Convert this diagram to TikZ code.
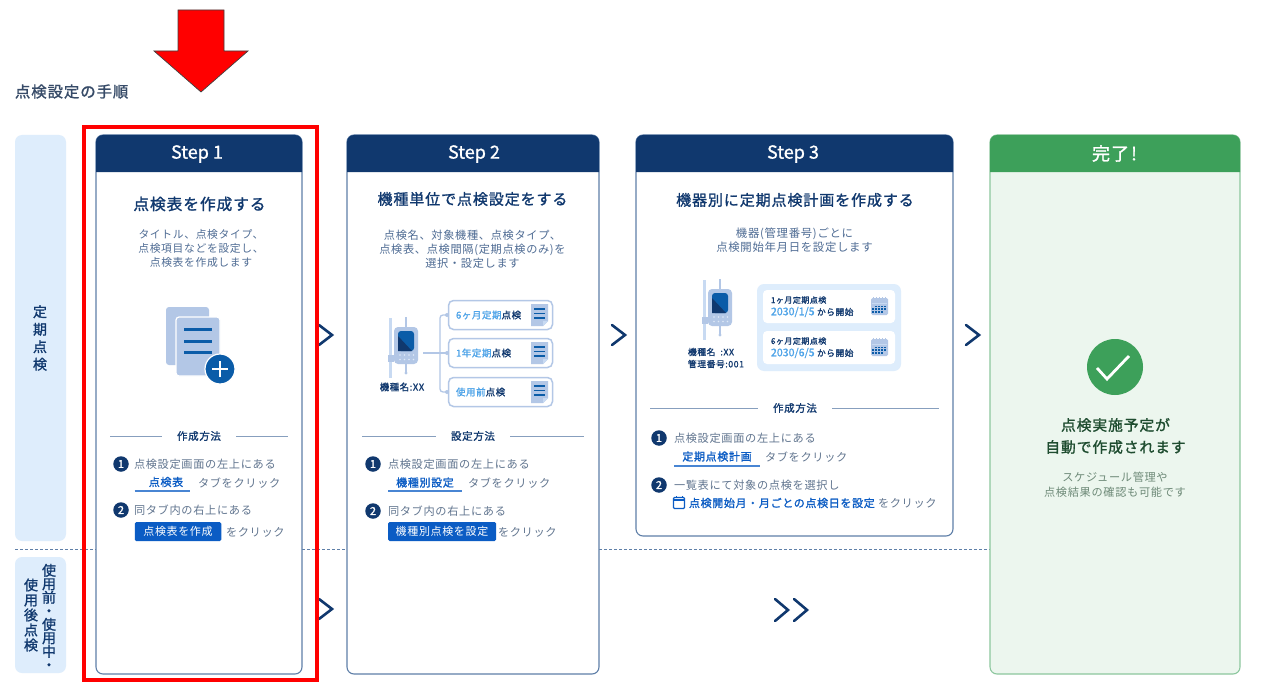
\documentclass[tikz,border=0pt]{standalone}
\usepackage{fontspec}
\setmainfont[LetterSpace=6,BoldFont={Noto Sans CJK JP},BoldFeatures={FakeBold=1.3}]{Noto Sans CJK JP}
\newfontfamily\stepfont[BoldFont={Noto Sans CJK JP},BoldFeatures={FakeBold=1.0}]{Noto Sans CJK JP}
\newcommand{\datenum}[1]{{\stepfont\fontsize{10.6}{12}\selectfont\bfseries\color{sky}#1}}
\definecolor{navy}{HTML}{10386E}
\definecolor{cardline}{HTML}{5F7FA8}
\definecolor{bodytx}{HTML}{4F6C94}
\definecolor{listtx}{HTML}{61758F}
\definecolor{lblue}{HTML}{DEEDFC}
\definecolor{icon}{HTML}{B3C7E6}
\definecolor{iconlt}{HTML}{C8DAF2}
\definecolor{blue}{HTML}{0B5CC4}
\definecolor{docblue}{HTML}{0B5CA8}
\definecolor{sky}{HTML}{4DA3E8}
\definecolor{green}{HTML}{3DA05A}
\definecolor{greenlt}{HTML}{ECF6EE}
\definecolor{greenln}{HTML}{8CC79E}
\definecolor{greentx}{HTML}{1F4D30}
\definecolor{greygr}{HTML}{6E8A78}
\tikzset{
  x=1pt,y=-1pt,
  tx/.style={inner sep=0pt,outer sep=0pt},
  heading/.style={tx,text=navy,font=\fontsize{15}{20}\selectfont\bfseries},
  headtx/.style={tx,text=white,font=\stepfont\fontsize{18}{22}\selectfont\bfseries},
  bodyt/.style={tx,text=bodytx,align=center,font=\fontsize{10.8}{14}\selectfont},
  sectt/.style={tx,text=navy,font=\fontsize{10.5}{14}\selectfont\bfseries},
  listt/.style={tx,anchor=west,text=listtx,font=\fontsize{11.2}{14}\selectfont},
  tabt/.style={tx,text=blue,font=\fontsize{11}{14}\selectfont\bfseries},
  btn/.style={tx,fill=blue,text=white,rounded corners=1.5pt,font=\fontsize{11}{14}\selectfont,minimum height=19pt},
  numc/.style={circle,fill=navy,text=white,inner sep=0pt,minimum size=15.5pt,font=\stepfont\fontsize{11}{11}\selectfont\bfseries},
  secrule/.style={draw=cardline!75,line width=0.9pt},
  tabline/.style={draw=blue!75,line width=1.1pt},
  chev/.style={draw=navy,line width=2.6pt,line join=miter,line cap=round},
  sidelab/.style={tx,text=navy,align=center,font=\fontsize{14}{17.5}\selectfont\bfseries},
  devlab/.style={tx,text=navy,font=\fontsize{8.8}{12}\selectfont\bfseries},
  rowbox/.style={draw=icon,fill=white,line width=1.5pt,rounded corners=5pt,minimum width=104pt,minimum height=29pt,inner sep=0pt},
  rowt/.style={tx,anchor=west,text=navy,font=\fontsize{9.5}{12}\selectfont\bfseries},
  deviceicon/.pic={
    \draw[iconlt,line width=3pt] (-4,-9) -- (-4,51);
    \draw[icon,line width=1.2pt] (12,-10) -- (12,0);
    \draw[icon,line width=1.2pt] (12,37) -- (12,46);
    \fill[icon] (12,46) circle (1.7);
    \fill[icon] (-6,28) rectangle (0,35);
    \fill[icon,rounded corners=4pt] (0,0) rectangle (24,37);
    \fill[docblue,rounded corners=3pt] (4,4) rectangle (20,24);
    \fill[navy] (4,9) -- (18,24) -- (4,24) -- cycle;
    \foreach \dx in {7,11.5,16,20.5} \foreach \dy in {28,32.5} \fill[iconlt!60] (\dx-1,\dy) circle (0.8);
  },
  docicon/.pic={
    \fill[icon] (0,0) -- (17,0) -- (17,17) -- (12,22) -- (0,22) -- cycle;
    \fill[iconlt] (17,17) -- (12,17) -- (12,22) -- cycle;
    \foreach \dy in {5,9.5,14} \draw[docblue,line width=1.2pt] (3,\dy) -- (14,\dy);
  },
  calicon/.pic={
    \fill[icon,rounded corners=1.5pt] (0,0) rectangle (17,17);
    \fill[iconlt] (0.7,5) rectangle (16.3,6.2);
    \foreach \dx in {3,6,9,12,15} \draw[icon,line width=.8pt] (\dx-0.5,-1) -- (\dx-0.5,1);
    \foreach \dx in {5,8,11,14} \fill[docblue] (\dx-1,7.5) rectangle (\dx+0.8,9.3);
    \foreach \dx in {2,5,8,11,14} \fill[docblue] (\dx-1,10.3) rectangle (\dx+0.8,12.1);
    \foreach \dx in {2,5,8,11} \fill[docblue] (\dx-1,13.1) rectangle (\dx+0.8,14.9);
  },
}
\begin{document}
\begin{tikzpicture}
\useasboundingbox (0,0) rectangle (1261,690);
\fill[white] (0,0) rectangle (1261,690);
% title and pointer
\node[tx,anchor=west,text=bodytx!70!black,font=\fontsize{15.4}{18}\selectfont\bfseries] (pagetitle) at (15,91.5) {点検設定の手順};
\draw[draw=black!75,line width=.7pt,fill=red] (178,10) -- (224,10) -- (224,51) -- (248,51) -- (201,92) -- (154,51) -- (178,51) -- cycle;
% side labels
\fill[lblue,rounded corners=7pt] (15,135) rectangle (66,541);
\fill[lblue,rounded corners=7pt] (15,557) rectangle (66,673);
\node[sidelab] (sidea) at (40,338) {定\\期\\点\\検};
\node[sidelab,font=\fontsize{14}{13.5}\selectfont\bfseries] (sideb) at (49,617) {使\\用\\前\\・\\使\\用\\中\\・};
\node[sidelab,font=\fontsize{14}{15}\selectfont\bfseries] (sidec) at (31,615) {使\\用\\後\\点\\検};
% dashed row separator
\draw[cardline,line width=.8pt,dash pattern=on 3pt off 2pt] (15,549) -- (96,549) (302,549) -- (347,549) (599,549) -- (990,549);
% cards
\draw[cardline,line width=1.1pt,fill=white,rounded corners=7pt] (96,135) rectangle (302,674);
\draw[cardline,line width=1.1pt,fill=white,rounded corners=7pt] (347,135) rectangle (599,674);
\draw[cardline,line width=1.1pt,fill=white,rounded corners=7pt] (636,135) rectangle (953,536);
\draw[greenln,line width=1.1pt,fill=greenlt,rounded corners=7pt] (990,135) rectangle (1240,674);
\fill[navy] (96,172) [rounded corners=7pt] -- (96,135) -- (302,135) [sharp corners] -- (302,172) -- cycle;
\fill[navy] (347,172) [rounded corners=7pt] -- (347,135) -- (599,135) [sharp corners] -- (599,172) -- cycle;
\fill[navy] (636,172) [rounded corners=7pt] -- (636,135) -- (953,135) [sharp corners] -- (953,172) -- cycle;
\fill[green] (990,172) [rounded corners=7pt] -- (990,135) -- (1240,135) [sharp corners] -- (1240,172) -- cycle;
\node[headtx] (h1) at (197,154) {Step 1};
\node[headtx] (h2) at (474,154) {Step 2};
\node[headtx] (h3) at (793,154) {Step 3};
\node[tx,text=white,font=\fontsize{18}{22}\selectfont\bfseries] (h4) at (1114.5,153.5) {完了\hspace{2pt}!\hspace{7pt}};
% chevrons
\draw[chev] (319,325) -- (332,335) -- (319,345);
\draw[chev] (612,325) -- (625,335) -- (612,345);
\draw[chev] (966,325) -- (979,335) -- (966,345);
\draw[chev] (319,599) -- (332,609) -- (319,619);
\draw[chev] (775,599) -- (788,610) -- (775,621);
\draw[chev] (794,599) -- (807,610) -- (794,621);
% ---- step 1
\node[heading,font=\fontsize{15.7}{20}\selectfont\bfseries] (t1) at (199.5,204) {点検表を作成する};
\node[bodyt] (b1) at (201,248.5) {タイトル、点検タイプ、\\点検項目などを設定し、\\点検表を作成します};
\fill[icon,rounded corners=3pt] (166,307) rectangle (209,365);
\draw[white,fill=icon,line width=1.2pt,rounded corners=3pt] (176,317) rectangle (220,376);
\foreach \dy in {329.5,341,352} \draw[docblue,line width=3pt] (184,\dy) -- (212,\dy);
\draw[white,fill=docblue,line width=1.2pt] (220,369) circle (15);
\draw[white,line width=2.6pt] (212,369) -- (228,369) (220,361) -- (220,377);
\draw[secrule] (110,436) -- (162,436) (236,436) -- (288,436);
\node[sectt] (m1) at (199,436) {作成方法};
\node[numc] (n11) at (121,464) {1};
\node[listt] (l11) at (134,464) {点検設定画面の左上にある};
\node[tabt] (tab1) at (166,482) {点検表};
\draw[tabline] (134.5,491) -- (190,491);
\node[listt] (l12) at (198,483) {タブをクリック};
\node[numc] (n12) at (121,510) {2};
\node[listt] (l13) at (134,510) {同タブ内の右上にある};
\node[btn,minimum width=86.5pt] (btn1) at (178,531.5) {点検表を作成};
\node[listt] (l14) at (226,532) {をクリック};
% ---- step 2
\node[heading] (t2) at (472.5,199) {機種単位で点検設定をする};
\node[bodyt,font=\fontsize{11.2}{14}\selectfont] (b2) at (472.5,249) {点検名、対象機種、点検タイプ、\\点検表、点検間隔(定期点検のみ)を\\選択・設定します};
\pic at (394,327) {deviceicon};
\node[devlab,font=\fontsize{9.4}{12}\selectfont\bfseries] (d2) at (402,387) {機種名:XX};
\node[rowbox] (r1) at (500.5,315) {};
\node[rowbox] (r2) at (500.5,353) {};
\node[rowbox] (r3) at (500.5,392) {};
\coordinate (dev2) at (423,353);
\draw[icon,line width=1.3pt] (dev2) -- (r2.west);
\draw[icon,line width=1.3pt,rounded corners=3pt] (r1.west) -- (440,315) -- (440,392) -- (r3.west);
\foreach \dy in {315,353,392} \fill[icon] (447,\dy) circle (2);
\node[rowt] (rt1) at (456,315) {{\color{sky}6ヶ月定期}点検};
\node[rowt] (rt2) at (456,353) {{\color{sky}1年定期}点検};
\node[rowt] (rt3) at (456,392) {{\color{sky}使用前}点検};
\pic at (531,304) {docicon};
\pic at (531,342) {docicon};
\pic at (531,381) {docicon};
\draw[secrule] (362,436) -- (436,436) (510,436) -- (584,436);
\node[sectt] (m2) at (473,436) {設定方法};
\node[numc] (n21) at (373,464) {1};
\node[listt] (l21) at (388,464) {点検設定画面の左上にある};
\node[tabt] (tab2) at (425,482.5) {機種別設定};
\draw[tabline] (388,491) -- (462,491);
\node[listt] (l22) at (468,483) {タブをクリック};
\node[numc] (n22) at (373,511) {2};
\node[listt] (l23) at (388,511) {同タブ内の右上にある};
\node[btn,minimum width=108pt] (btn2) at (442,531.5) {機種別点検を設定};
\node[listt] (l24) at (498,532) {をクリック};
% ---- step 3
\node[heading] (t3) at (795,200) {機器別に定期点検計画を作成する};
\node[bodyt,font=\fontsize{11.4}{14}\selectfont] (b3) at (794.5,240) {機器(管理番号)ごとに\\点検開始年月日を設定します};
\pic at (708,289) {deviceicon};
\node[devlab,anchor=west] (d3) at (688,352) {機種名\hspace{5pt}:XX};
\node[devlab,anchor=west] (d4) at (688,364) {管理番号:001};
\fill[lblue,rounded corners=7pt] (757,284) rectangle (901,371);
\fill[white,rounded corners=4pt] (763,290) rectangle (895,323);
\fill[white,rounded corners=4pt] (763,331) rectangle (895,364);
\node[rowt,font=\fontsize{8}{10}\selectfont\bfseries] (p11) at (771,300) {1ヶ月定期点検};
\node[rowt,font=\fontsize{8.7}{12}\selectfont\bfseries] (p12) at (771,312) {\datenum{2030/1/5} から開始};
\node[rowt,font=\fontsize{8}{10}\selectfont\bfseries] (p21) at (771,341) {6ヶ月定期点検};
\node[rowt,font=\fontsize{8.7}{12}\selectfont\bfseries] (p22) at (771,353) {\datenum{2030/6/5} から開始};
\pic at (871,298) {calicon};
\pic at (871,339) {calicon};
\draw[secrule] (650,408) -- (758,408) (832,408) -- (939,408);
\node[sectt] (m3) at (795,408) {作成方法};
\node[numc] (n31) at (659,438) {1};
\node[listt] (l31) at (674,438) {点検設定画面の左上にある};
\node[tabt] (tab3) at (717,456.5) {定期点検計画};
\draw[tabline] (674,466) -- (760,466);
\node[listt] (l32) at (765,457) {タブをクリック};
\node[numc] (n32) at (659,485) {2};
\node[listt] (l33) at (674,485) {一覧表にて対象の点検を選択し};
\draw[blue,line width=1.2pt,rounded corners=1pt] (673.5,497.5) rectangle (684.5,508.5);
\draw[blue,line width=2pt] (673.5,499.5) -- (684.5,499.5);
\draw[blue,line width=1pt] (676,496) -- (676,498) (682,496) -- (682,498);
\node[tabt,anchor=west] (l34) at (689,503) {点検開始月・月ごとの点検日を設定};
\node[listt] (l35) at (878,503) {をクリック};
% ---- done
\fill[green] (1115,367) circle (28);
\draw[white,line width=2.8pt] (1097,368) -- (1107,379) -- (1129,356);
\node[tx,align=center,text=greentx,font=\fontsize{14.8}{22}\selectfont\bfseries] (dt) at (1115.5,436) {点検実施予定が\\自動で作成されます};
\node[tx,align=center,text=greygr,font=\fontsize{11.2}{15}\selectfont] (db) at (1115,485) {スケジュール管理や\\点検結果の確認も可能です};
% highlight frame
\draw[red,line width=3.6pt] (84,127) rectangle (317,680);
\end{tikzpicture}
\end{document}
